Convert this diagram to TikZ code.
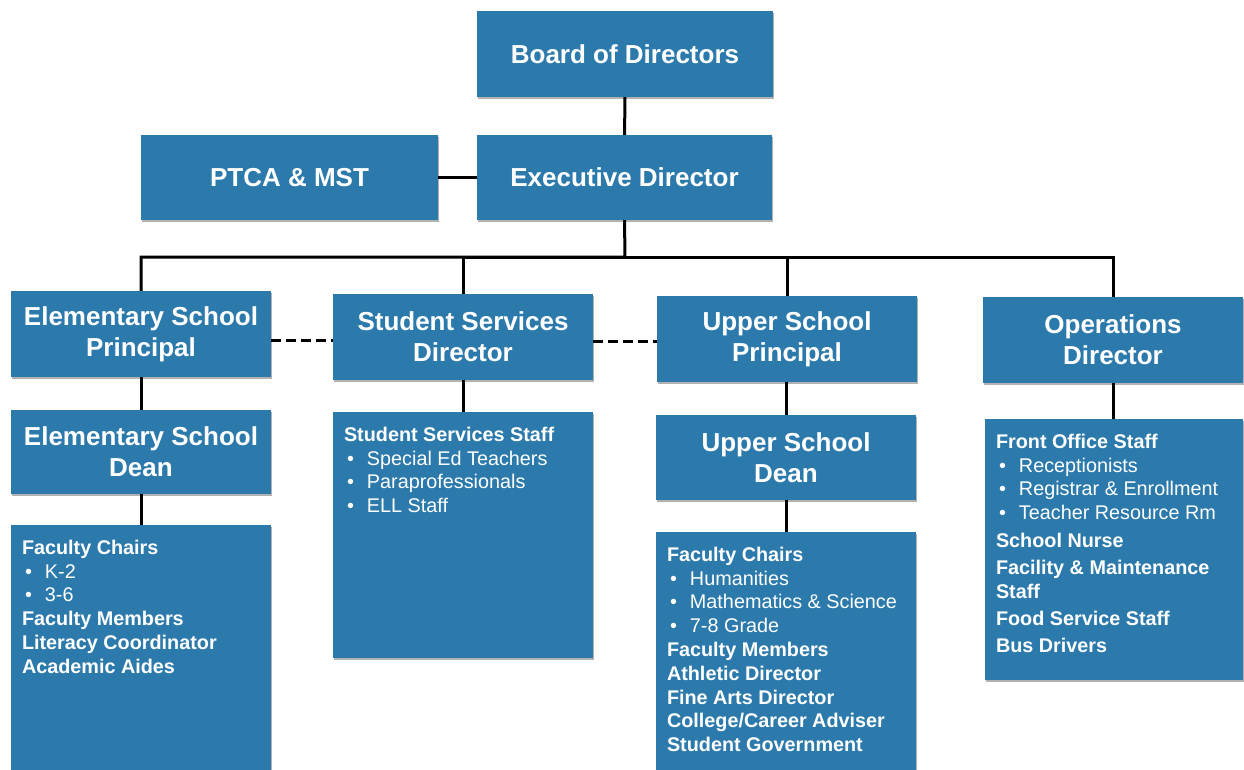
\documentclass[tikz,border=0pt]{standalone}
\usepackage{fontspec}
\setmainfont{Liberation Sans}
\usetikzlibrary{positioning,shadows}

\definecolor{boxblue}{RGB}{44,122,172}
\newcommand{\itm}[1]{\makebox[23pt][l]{\hspace{3pt}\textbullet}#1}

\tikzset{
  boxshadow/.style={drop shadow={shadow xshift=1pt, shadow yshift=-2pt, opacity=0.3, fill=black}},
  orgbox/.style={fill=boxblue, text=white, inner sep=0pt, boxshadow, align=center,
    font=\bfseries\fontsize{26}{31}\selectfont},
  listbox/.style={fill=boxblue, text=white, inner xsep=11pt, inner ysep=15pt, boxshadow,
    font=\fontsize{19.8}{23.8}\selectfont},
  conn/.style={line width=3pt, black},
  dashconn/.style={line width=3pt, black, dash pattern=on 10pt off 5pt}
}

\begin{document}
\begin{tikzpicture}[x=1pt,y=-1pt]

\useasboundingbox (0,0) rectangle (1244,769);

%Shape: Rectangle [top]
\node[orgbox, minimum width=296pt, minimum height=86pt] (board) at (625,54) {Board of Directors};
\node[orgbox, minimum width=295pt, minimum height=85pt] (exec) at (624.5,177.5) {Executive Director};
\node[orgbox, minimum width=297pt, minimum height=85pt] (ptca) at (289.5,177.5) {PTCA \& MST};

%Shape: Rectangle [second row]
\node[orgbox, minimum width=260pt, minimum height=86pt] (elemp) at (141,334) {Elementary School\\Principal};
\node[orgbox, minimum width=260pt, minimum height=86pt] (ssd) at (463,337) {Student Services\\Director};
\node[orgbox, minimum width=260pt, minimum height=86pt] (usp) at (787,339) {Upper School\\Principal};
\node[orgbox, minimum width=260pt, minimum height=86pt] (opd) at (1113,340) {Operations\\Director};

%Shape: Rectangle [deans]
\node[orgbox, minimum width=260pt, minimum height=84pt] (elemd) at (141,452) {Elementary School\\Dean};
\node[orgbox, minimum width=260pt, minimum height=85pt] (usd) at (786,457.5) {Upper School\\Dean};

%Shape: Rectangle [staff lists]
\node[listbox] (elemlist) at (141,650) {\parbox[c][220pt][t]{238pt}{%
  \textbf{Faculty Chairs}\\
  \itm{K-2}\\
  \itm{3-6}\\
  \textbf{Faculty Members}\\
  \textbf{Literacy Coordinator}\\
  \textbf{Academic Aides}}};
\node[listbox] (sslist) at (463,535) {\parbox[c][216pt][t]{238pt}{%
  \textbf{Student Services Staff}\\
  \itm{Special Ed Teachers}\\
  \itm{Paraprofessionals}\\
  \itm{ELL Staff}}};
\node[listbox] (uslist) at (786,653.5) {\parbox[c][213pt][t]{238pt}{%
  \textbf{Faculty Chairs}\\
  \itm{Humanities}\\
  \itm{Mathematics \& Science}\\
  \itm{7-8 Grade}\\
  \textbf{Faculty Members}\\
  \textbf{Athletic Director}\\
  \textbf{Fine Arts Director}\\
  \textbf{College/Career Adviser}\\
  \textbf{Student Government}}};
\node[listbox] (oplist) at (1114,549.5) {\parbox[c][231pt][t]{236pt}{%
  \textbf{Front Office Staff}\\
  \itm{Receptionists}\\
  \itm{Registrar \& Enrollment}\\
  \itm{Teacher Resource Rm}\\[4pt]
  \textbf{School Nurse}\\[3pt]
  \textbf{Facility \& Maintenance}\\
  \textbf{Staff}\\[4pt]
  \textbf{Food Service Staff}\\[3pt]
  \textbf{Bus Drivers}}};

%Straight Lines
\coordinate (bus) at (625,257);
\draw[conn] (board) -- (exec);
\draw[conn] (ptca) -- (exec);
\draw[conn] (exec.south) -- (bus) -| (elemp.north);
\draw[conn] (bus) -| (ssd.north);
\draw[conn] (bus) -| (usp.north);
\draw[conn] (bus) -| (opd.north);

\draw[conn] (elemp) -- (elemd);
\draw[conn] (elemd) -- (elemlist);
\draw[conn] (ssd) -- (sslist);
\draw[conn] (usd.north |- usp.south) -- (usd.north);
\draw[conn] (usd) -- (uslist);
\draw[conn] (opd.south) -- (opd.south |- oplist.north);

%Dashed Lines
\draw[dashconn] ([yshift=-6pt]elemp.east) -- ([yshift=-6pt]elemp.east -| ssd.west);
\draw[dashconn] ([yshift=-4pt]ssd.east) -- ([yshift=-4pt]ssd.east -| usp.west);

\end{tikzpicture}
\end{document}
